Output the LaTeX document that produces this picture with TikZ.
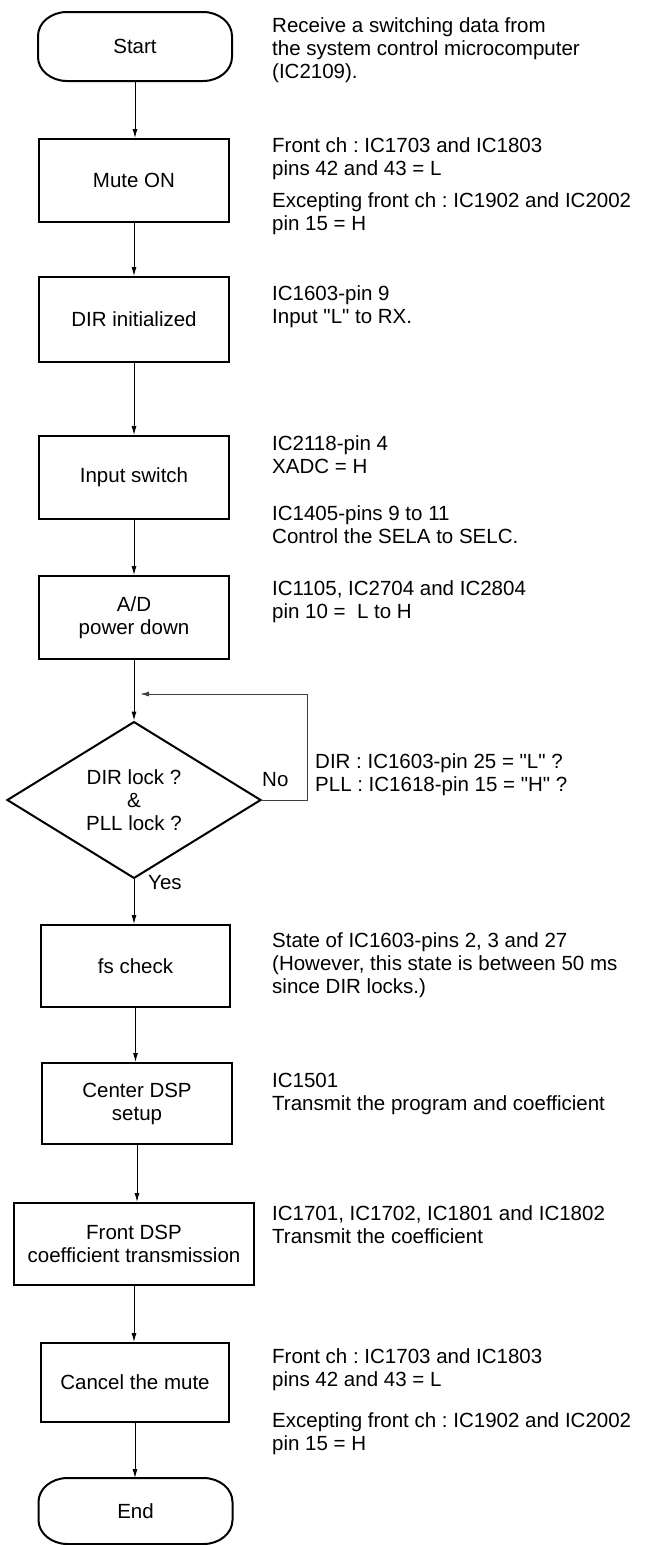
\documentclass[tikz,border=0pt]{standalone}
\usepackage{fontspec}
\newfontfamily\flowfont{Liberation Sans}
\usetikzlibrary{shapes.geometric,arrows.meta}
\tikzset{
  every node/.style={font=\flowfont\frenchspacing\fontsize{20.5pt}{23pt}\selectfont, inner sep=0pt},
  stepbox/.style={draw, line width=2pt, minimum width=190pt, minimum height=83pt, align=center},
  termnode/.style={minimum width=194pt, minimum height=69pt, outer sep=0pt},
  termline/.style={line width=2pt},
  decbox/.style={draw, line width=2pt, shape=diamond, minimum width=254pt, minimum height=130pt, align=center},
  note/.style={anchor=north west, align=left},
  arr/.style={line width=1pt, -{Latex[length=9pt,width=5pt]}},
  looparr/.style={line width=1pt, draw=black!75, -{Latex[length=9pt,width=5pt]}},
}
\newcommand\termpath[1]{%
  \draw[termline] ([xshift=29pt]#1.north west) -- ([xshift=-29pt]#1.north east)
    arc[start angle=90,end angle=0,x radius=29pt,y radius=24pt]
    -- ([yshift=24pt]#1.south east)
    arc[start angle=0,end angle=-90,x radius=29pt,y radius=24pt]
    -- ([xshift=29pt]#1.south west)
    arc[start angle=270,end angle=180,x radius=29pt,y radius=24pt]
    -- ([yshift=-24pt]#1.north west)
    arc[start angle=180,end angle=90,x radius=29pt,y radius=24pt] -- cycle;}
\begin{document}
\begin{tikzpicture}[x=1pt,y=-1pt]
\useasboundingbox (0,0) rectangle (647,1545);
% flow nodes
\node[termnode] (start) at (135,46.5) {Start};
\termpath{start}
\node[stepbox] (mute) at (134,180.5) {Mute ON};
\node[stepbox, minimum height=85pt] (dir) at (134,319.5) {DIR initialized};
\node[stepbox] (input) at (134,477.5) {Input switch};
\node[stepbox] (ad) at (134,617.5) {A/D\\power down};
\node[decbox] (dec) at (134,800) {DIR lock ?\\\&\\PLL lock ?};
\node[stepbox, minimum width=189pt, minimum height=82pt] (fs) at (135.5,966) {fs check};
\node[stepbox, minimum height=81pt] (center) at (137,1103.5) {Center DSP\\setup};
\node[stepbox, minimum width=240pt, minimum height=82pt] (front) at (134,1244) {Front DSP\\coefficient transmission};
\node[stepbox, minimum width=188pt, minimum height=79pt] (cancel) at (135,1382.5) {Cancel the mute};
\node[termnode, minimum height=66pt] (end) at (135.5,1511) {End};
\termpath{end}
% connectors
\draw[arr] (start.south) -- (start.south |- mute.north);
\draw[arr] (mute.south) -- (mute.south |- dir.north);
\draw[arr] (dir.south) -- (dir.south |- input.north);
\draw[arr] (input.south) -- (input.south |- ad.north);
\draw[arr] (ad.south) -- (dec.north);
\coordinate (loopc) at (307,694);
\coordinate (loopend) at (140,694);
\draw[looparr] (dec.east) -| (loopc) -- (loopend);
\draw[arr] (dec.south) -- (dec.south |- fs.north);
\draw[arr] (fs.south) -- (fs.south |- center.north);
\draw[arr] (center.south) -- (center.south |- front.north);
\draw[arr] (front.south) -- (front.south |- cancel.north);
\draw[arr] (cancel.south) -- (cancel.south |- end.north);
% branch labels
\node[anchor=west] (no) at (262,780) {No};
\node[anchor=west] (yes) at (148,883) {Yes};
% notes
\node[note] (n1) at (272,16) {\strut Receive a switching data from\\the system control microcomputer\\(IC2109).};
\node[note] (n2) at (272,136) {\strut Front ch : IC1703 and IC1803\\pins 42 and 43 = L};
\node[note] (n3) at (272,191) {\strut Excepting front ch : IC1902 and IC2002\\pin 15 = H};
\node[note] (n4) at (272,284) {\strut IC1603-pin 9\\Input "L" to RX.};
\node[note] (n5) at (272,434) {\strut IC2118-pin 4\\XADC = H};
\node[note] (n6) at (272,504) {\strut IC1405-pins 9 to 11\\Control the SELA to SELC.};
\node[note] (n7) at (272,579) {\strut IC1105, IC2704 and IC2804\\pin 10 =\ \ L to H};
\node[note] (n8) at (315,752) {\strut DIR : IC1603-pin 25 = "L" ?\\PLL : IC1618-pin 15 = "H" ?};
\node[note] (n9) at (272,931) {\strut State of IC1603-pins 2, 3 and 27\\(However, this state is between 50 ms\\since DIR locks.)};
\node[note] (n10) at (272,1071) {\strut IC1501\\Transmit the program and coefficient};
\node[note] (n11) at (272,1204) {\strut IC1701, IC1702, IC1801 and IC1802\\Transmit the coefficient};
\node[note] (n12) at (272,1347) {\strut Front ch : IC1703 and IC1803\\pins 42 and 43 = L};
\node[note] (n13) at (272,1411) {\strut Excepting front ch : IC1902 and IC2002\\pin 15 = H};
\end{tikzpicture}
\end{document}
